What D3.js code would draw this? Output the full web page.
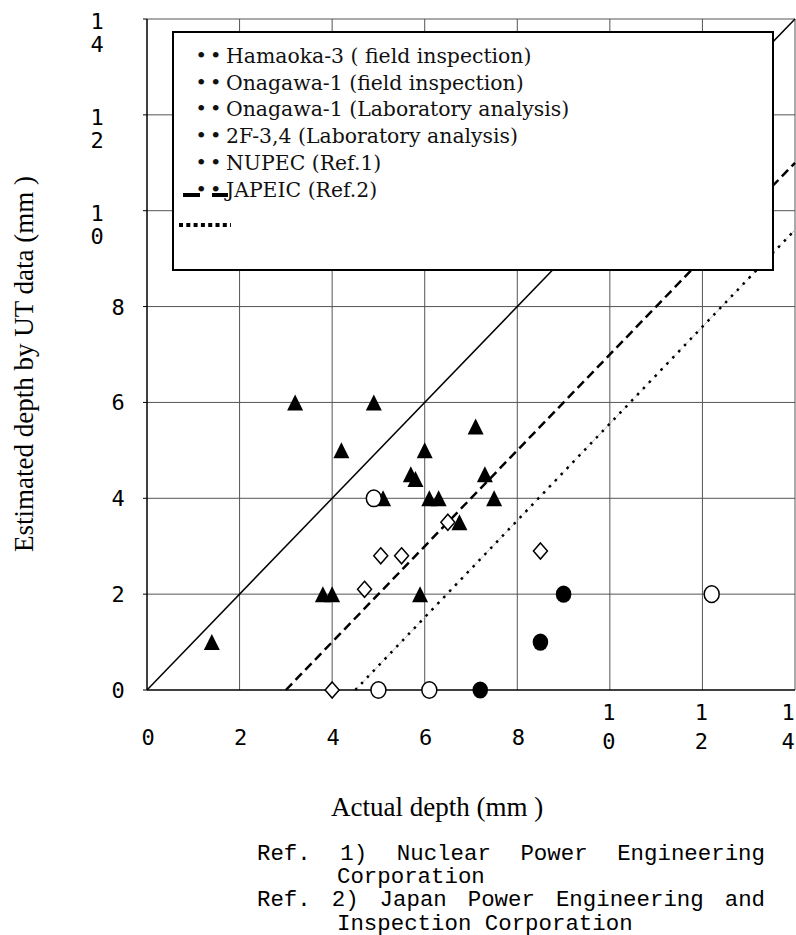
<!DOCTYPE html>
<html>
<head>
<meta charset="utf-8">
<script src="https://cdn.jsdelivr.net/npm/d3@7"></script>
<style>
  body { margin: 0; background: #fff; }
  svg { display: block; }
</style>
</head>
<body>
<svg id="chart"></svg>
<script>
// values (mm)
const ticks = [0, 2, 4, 6, 8, 10, 12, 14];

// filled triangles
const triX = [1.4, 3.2, 4.9, 4.2, 6.0, 5.7, 5.8, 5.1, 6.1, 6.3, 7.1, 7.3, 7.5, 6.75, 3.8, 4.0, 5.9];
const triY = [1.0, 6.0, 6.0, 5.0, 5.0, 4.5, 4.4, 4.0, 4.0, 4.0, 5.5, 4.5, 4.0, 3.5, 2.0, 2.0, 2.0];
// open circles
const openCircX = [4.9, 5.0, 6.1, 12.2];
const openCircY = [4.0, 0.0, 0.0, 2.0];
// filled circles
const fillCircX = [7.2, 8.5, 9.0];
const fillCircY = [0.0, 1.0, 2.0];
// open diamonds
const diaX = [4.0, 4.7, 5.05, 5.5, 6.5, 8.5];
const diaY = [0.0, 2.1, 2.8, 2.8, 3.5, 2.9];

// reference lines
const diagX = [0, 14], diagY = [0, 14];
const nupecX = [3.0, 14], nupecY = [0, 11.0];
const japeicX = [4.5, 14], japeicY = [0, 9.6];

const legendLabels = [
  "\u2022 \u2022Hamaoka-3 ( field inspection)",
  "\u2022 \u2022Onagawa-1 (field inspection)",
  "\u2022 \u2022Onagawa-1 (Laboratory analysis)",
  "\u2022 \u20222F-3,4 (Laboratory analysis)",
  "\u2022 \u2022NUPEC (Ref.1)",
  "\u2022 \u2022JAPEIC (Ref.2)"
];

const notes = [
  {text: "Ref. 1) Nuclear Power Engineering", indent: 0, justify: true},
  {text: "Corporation", indent: 1, justify: false},
  {text: "Ref. 2) Japan Power Engineering and", indent: 0, justify: true},
  {text: "Inspection Corporation", indent: 1, justify: false}
];

const width = 796;
const height = 935;

const svg = d3.select("#chart")
    .attr("width", width)
    .attr("height", height);

const x = d3.scaleLinear().domain([0, 14]).range([147, 795]);
const y = d3.scaleLinear().domain([0, 14]).range([690, 19]);

// grid
const grid = svg.append("g").attr("stroke", "#555").attr("stroke-width", 1);
grid.selectAll(".vg").data(ticks.slice(1)).enter().append("line")
    .attr("x1", d => x(d)).attr("x2", d => x(d))
    .attr("y1", y(0)).attr("y2", y(14));
grid.selectAll(".hg").data(ticks.slice(1)).enter().append("line")
    .attr("x1", x(0)).attr("x2", x(14))
    .attr("y1", d => y(d)).attr("y2", d => y(d));

// axes
const axes = svg.append("g").attr("stroke", "#000").attr("stroke-width", 1.5);
axes.append("line").attr("x1", x(0)).attr("x2", x(0)).attr("y1", y(0)).attr("y2", y(14));
axes.append("line").attr("x1", x(0)).attr("x2", x(14)).attr("y1", y(0)).attr("y2", y(0));
axes.selectAll(".yt").data(ticks).enter().append("line")
    .attr("x1", x(0) - 4).attr("x2", x(0)).attr("y1", d => y(d)).attr("y2", d => y(d))
    .attr("stroke-width", 1);

// tick labels (two-digit labels wrap one digit per line)
const tickFont = "'DejaVu Sans Mono', monospace";
ticks.forEach(t => {
  const s = String(t);
  if (s.length === 1) {
    svg.append("text").attr("x", x(t) + 1).attr("y", 745)
        .attr("text-anchor", "middle").attr("font-family", tickFont).attr("font-size", 22).text(s);
    svg.append("text").attr("x", 118).attr("y", y(t) + 8)
        .attr("text-anchor", "middle").attr("font-family", tickFont).attr("font-size", 22).text(s);
  } else {
    s.split("").forEach((c, i) => {
      svg.append("text").attr("x", Math.min(x(t) - 1, 788)).attr("y", 720 + i * 29)
          .attr("text-anchor", "middle").attr("font-family", tickFont).attr("font-size", 22).text(c);
      svg.append("text").attr("x", 97).attr("y", y(t) + 10 + i * 23)
          .attr("text-anchor", "middle").attr("font-family", tickFont).attr("font-size", 22).text(c);
    });
  }
});

// reference lines
const line = d3.line().x(d => x(d[0])).y(d => y(d[1]));
svg.append("path").datum(d3.zip(diagX, diagY)).attr("d", line)
    .attr("fill", "none").attr("stroke", "#000").attr("stroke-width", 1.5);
svg.append("path").datum(d3.zip(nupecX, nupecY)).attr("d", line)
    .attr("fill", "none").attr("stroke", "#000").attr("stroke-width", 2.5)
    .attr("stroke-dasharray", "9,5");
svg.append("path").datum(d3.zip(japeicX, japeicY)).attr("d", line)
    .attr("fill", "none").attr("stroke", "#aaa").attr("stroke-width", 0.8)
    .attr("stroke-dasharray", "5,4");
svg.append("path").datum(d3.zip(japeicX, japeicY)).attr("d", line)
    .attr("fill", "none").attr("stroke", "#000").attr("stroke-width", 2.5)
    .attr("stroke-dasharray", "2.5,6");

// markers
const pts = svg.append("g");
pts.selectAll(".tri").data(d3.zip(triX, triY)).enter().append("path")
    .attr("transform", d => `translate(${x(d[0])},${y(d[1])})`)
    .attr("d", "M0,-8L8,8L-8,8Z").attr("fill", "#000");
pts.selectAll(".oc").data(d3.zip(openCircX, openCircY)).enter().append("ellipse")
    .attr("cx", d => x(d[0])).attr("cy", d => y(d[1])).attr("rx", 7.5).attr("ry", 8.3)
    .attr("fill", "#fff").attr("stroke", "#000").attr("stroke-width", 1.5);
pts.selectAll(".fc").data(d3.zip(fillCircX, fillCircY)).enter().append("ellipse")
    .attr("cx", d => x(d[0])).attr("cy", d => y(d[1])).attr("rx", 7.8).attr("ry", 8.6)
    .attr("fill", "#000");
pts.selectAll(".dia").data(d3.zip(diaX, diaY)).enter().append("path")
    .attr("transform", d => `translate(${x(d[0])},${y(d[1])})`)
    .attr("d", "M0,-8L7,0L0,8L-7,0Z")
    .attr("fill", "#fff").attr("stroke", "#000").attr("stroke-width", 1.5);

// legend
const lg = svg.append("g");
lg.append("rect").attr("x", 173).attr("y", 32).attr("width", 600).attr("height", 238)
    .attr("fill", "#fff").attr("stroke", "#000").attr("stroke-width", 2);
const items = lg.selectAll("text").data(legendLabels).enter().append("text")
    .attr("y", (d, i) => 63 + i * 26.7)
    .attr("font-family", "'DejaVu Serif', serif").attr("fill", "#111");
items.append("tspan").attr("x", 197).attr("font-family", "'Liberation Serif', serif")
    .attr("font-size", 24).text(d => d.slice(0, 3));
items.append("tspan").attr("x", 226).attr("font-size", 20.4).text(d => d.slice(3));
lg.append("line").attr("x1", 183).attr("x2", 228).attr("y1", 195).attr("y2", 195)
    .attr("stroke", "#000").attr("stroke-width", 4).attr("stroke-dasharray", "17,12");
lg.append("line").attr("x1", 179).attr("x2", 231).attr("y1", 225).attr("y2", 225)
    .attr("stroke", "#000").attr("stroke-width", 4).attr("stroke-dasharray", "4,3.3");

// axis titles
svg.append("text").attr("x", 331).attr("y", 816)
    .attr("font-family", "'Liberation Serif', serif").attr("font-size", 27)
    .text("Actual depth (mm )");
svg.append("text").attr("transform", "translate(33,552) rotate(-90)")
    .attr("font-family", "'Liberation Serif', serif").attr("font-size", 27)
    .text("Estimated depth by UT data (mm )");

// reference notes, justified monospace
const noteLeft = 257, noteRight = 765, indentW = 80;
notes.forEach((n, i) => {
  const t = svg.append("text")
      .attr("x", noteLeft + n.indent * indentW).attr("y", 860 + i * 23.2)
      .attr("font-family", "'Liberation Mono', monospace").attr("font-size", 22.4)
      .attr("xml:space", "preserve")
      .text(n.text);
  if (n.justify) {
    const w = t.node().getComputedTextLength();
    const gaps = n.text.split(" ").length - 1;
    t.attr("word-spacing", (noteRight - noteLeft - w) / gaps);
  }
});
</script>
</body>
</html>
